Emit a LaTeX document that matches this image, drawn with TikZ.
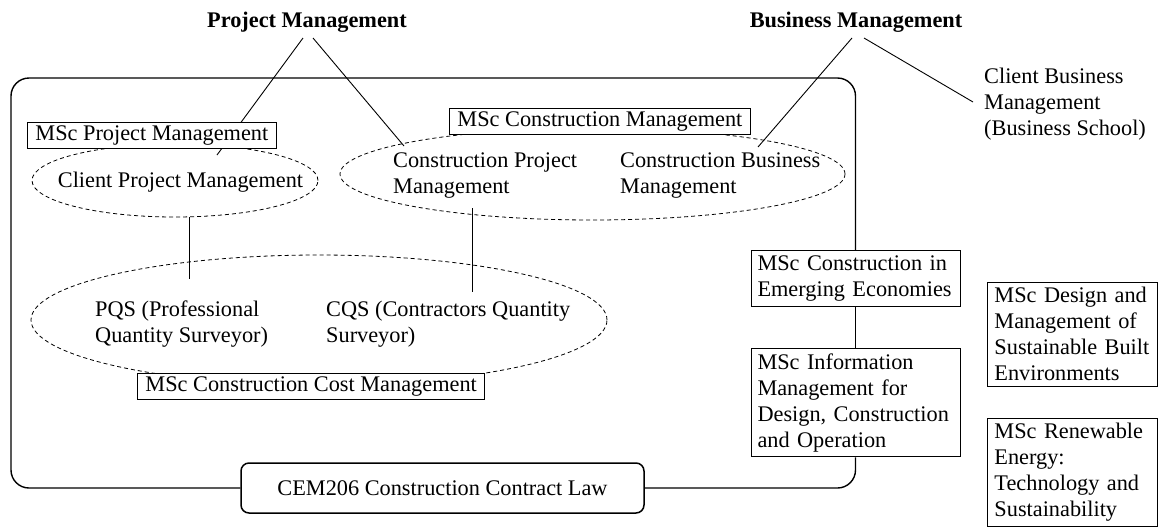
\documentclass[tikz,border=0pt]{standalone}
\usepackage{fontspec}
\setmainfont{Liberation Serif}
\usetikzlibrary{shapes.geometric}
\pgfdeclarelayer{back}
\pgfsetlayers{back,main}

\begin{document}
\begin{tikzpicture}[x=1pt,y=-1pt,
  every node/.style={font=\fontsize{22.3}{26}\selectfont},
  title/.style={font=\fontsize{22.3}{26}\selectfont\bfseries, inner sep=0pt},
  label/.style={inner sep=0pt, align=left},
  msc/.style={draw, fill=white, line width=0.9pt, inner xsep=8pt, inner ysep=3pt},
  stack/.style={draw, fill=white, line width=0.9pt, inner xsep=6.5pt, inner ysep=5pt, align=left},
  group/.style={draw, ellipse, inner sep=0pt, line width=0.8pt, dash pattern=on 4pt off 3pt},
  link/.style={line width=0.9pt},
  frame/.style={line width=1.4pt, rounded corners=18pt},
]
\useasboundingbox (0,0) rectangle (1161,528);

% dashed groupings of roles
\node[group, minimum width=286pt, minimum height=73pt] (e1) at (175,180.5) {};
\node[group, minimum width=505pt, minimum height=92pt] (e2) at (592.5,174) {};
\node[group, minimum width=576pt, minimum height=130pt] (e3) at (319,320) {};

% headings
\node[title, anchor=base] (pm) at (307,27) {Project Management};
\node[title, anchor=base] (bm) at (856,27) {Business Management};
\node[label, anchor=north west] (cbm) at (984,68) {Client Business\\Management\\(Business School)};

% roles inside the groupings
\node[label, anchor=base] (cpm) at (180.5,187) {Client Project Management};
\node[label, anchor=north west] (cpj) at (393,153) {Construction Project\\Management};
\node[label, anchor=north west] (cbs) at (620,153) {Construction Business\\Management};
\node[label, anchor=north west] (pqs) at (95,301) {PQS (Professional\\Quantity Surveyor)};
\node[label, anchor=north west] (cqs) at (326,301) {CQS (Contractors Quantity\\Surveyor)};

% programmes
\node[msc, anchor=north west] (mpm) at (27,122) {MSc Project Management};
\node[msc, anchor=north west] (mcm) at (449,108) {MSc Construction Management};
\node[msc, anchor=north west] (mcc) at (137,373) {MSc Construction Cost Management};
\node[draw, fill=white, rounded corners=8pt, line width=1.5pt,
      minimum width=403pt, minimum height=50pt] (cem) at (442.5,488) {CEM206 Construction Contract Law};

\node[stack, text width=196pt, anchor=north] (econ) at (855.5,250) {MSc Construction in\\Emerging Economies};
\node[stack, text width=196pt, anchor=north] (info) at (855.5,348) {MSc Information\\Management for\\Design, Construction\\and Operation};
\node[stack, text width=156pt, inner xsep=7pt, anchor=north west] (sbe) at (987,282) {MSc Design and\\Management of\\Sustainable Built\\Environments};
\node[stack, text width=156pt, inner xsep=7pt, anchor=north west] (ren) at (987,418) {MSc Renewable\\Energy:\\Technology and\\Sustainability};

\begin{pgfonlayer}{back}
  % free ends of the links
  \coordinate (pmA) at (217,155);
  \coordinate (pmB) at (404,146);
  \coordinate (bmA) at (758,147);
  \coordinate (bmB) at (973,102);
  \coordinate (v1a) at (189,217);
  \coordinate (v1b) at (189,279);
  \coordinate (v2a) at (472,208);
  \coordinate (v2b) at (472,292);
  \coordinate (ftl) at (11,78);

  \draw[link] ([xshift=-4pt,yshift=-11pt]pm.base) -- (pmA);
  \draw[link] ([xshift=6pt,yshift=-11pt]pm.base) -- (pmB);
  \draw[link] ([xshift=-4pt,yshift=-11pt]bm.base) -- (bmA);
  \draw[link] ([xshift=8pt,yshift=-11pt]bm.base) -- (bmB);
  \draw[link] (v1a) -- (v1b);
  \draw[link] (v2a) -- (v2b);

  % the enclosing frame
  \draw[frame] (cem.west) -| (ftl) -| (econ.north);
  \draw[frame] (info.south) |- (cem.east);
  \draw[line width=1.4pt] (econ.south) -- (info.north);
\end{pgfonlayer}
\end{tikzpicture}
\end{document}
